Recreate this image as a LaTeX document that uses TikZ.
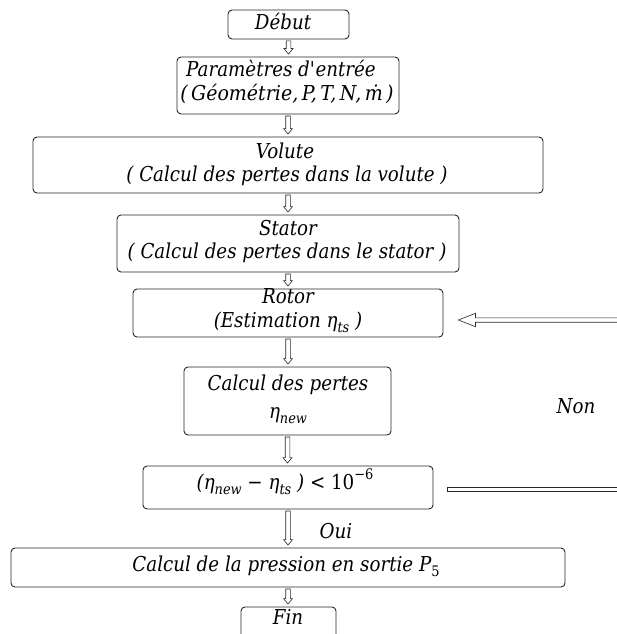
\documentclass[tikz,border=0pt]{standalone}
\usepackage{fontspec}
\usepackage{graphicx}
\setmainfont{DejaVu Serif}[FakeStretch=0.89]
\usetikzlibrary{calc}
\newcommand\lo[1]{\raisebox{-0.28em}{\fontsize{14.5}{14.5}\selectfont #1}}
\newcommand\hi[1]{\raisebox{0.45em}{\fontsize{14.5}{14.5}\selectfont #1}}
\tikzset{
  box/.style={draw=black!85, line width=0.9pt, rounded corners=4pt, inner sep=0pt},
  txt/.style={font=\fontsize{20.5}{20.5}\selectfont\itshape, inner sep=0pt, anchor=base},
  arr/.style={draw=black!85, line width=0.6pt, fill=white, line join=miter},
}
\newcommand\darrow[2]{%
  \draw[arr] let \p1=(#1.south), \p2=(#2.north) in
    (\x1-2.3pt,\y1-1.5pt) -- (\x1-2.3pt,\y2+8pt) -- (\x1-4.5pt,\y2+8pt) -- (\x1,\y2+2.5pt)
    -- (\x1+4.5pt,\y2+8pt) -- (\x1+2.3pt,\y2+8pt) -- (\x1+2.3pt,\y1-1.5pt) -- cycle;}
\begin{document}
\begin{tikzpicture}[x=1pt,y=-1pt]
\path[use as bounding box] (0,0) rectangle (617,634);
\clip (0,0) rectangle (617,634);
% boxes
\node[box, minimum width=121, minimum height=29] (debut) at (288.5,24.5) {};
\node[box, minimum width=222, minimum height=57] (param) at (288,85.5) {};
\node[box, minimum width=510, minimum height=56] (volute) at (288,165) {};
\node[box, minimum width=342, minimum height=57] (stator) at (288,243.5) {};
\node[box, minimum width=310, minimum height=48] (rotor) at (288,313) {};
\node[box, minimum width=207, minimum height=68] (pertes) at (287.5,401) {};
\node[box, minimum width=290, minimum height=43] (cond) at (288,487.5) {};
\node[box, minimum width=554, minimum height=39] (press) at (288,567.5) {};
\node[box, minimum width=95, minimum height=50] (fin) at (288.5,632) {};
% texts
\node[txt] (tdebut) at (283,30) {Début};
\node[txt] (tparamA) at (281,76) {Paramètres d\textquotesingle entrée};
\node[txt] (tparamB) at (287,100) {\resizebox{213pt}{\height}{(\hspace{0.15em}Géométrie,\,P,\,T,\,N,\,\.m\hspace{0.15em})}};
\node[txt] (tvoluteA) at (285,158) {Volute};
\node[txt] (tvoluteB) at (287,181) {( Calcul des pertes dans la volute )};
\node[txt] (tstatorA) at (288,235) {Stator};
\node[txt] (tstatorB) at (287,258) {( Calcul des pertes dans le stator )};
\node[txt] (trotorA) at (288,303) {Rotor};
\node[txt] (trotorB) at (288,327) {(Estimation η\lo{ts} )};
\node[txt] (tpertesA) at (288,390) {Calcul des pertes};
\node[txt] (tpertesB) at (288,418) {η\lo{new}};
\node[txt] (tcond) at (285,489) {(η\lo{new} {\upshape −} η\lo{ts} ) {\upshape <} {\upshape 10\hi{−6}}};
\node[txt] (tpress) at (286,571) {Calcul de la pression en sortie P\lo{\upshape 5}};
\node[txt] (tfin) at (288,624) {Fin};
\node[txt] (tnon) at (576,413) {Non};
\node[txt] (toui) at (336,538) {Oui};
% down arrows
\darrow{debut}{param}
\darrow{param}{volute}
\darrow{volute}{stator}
\darrow{stator}{rotor}
\darrow{rotor}{pertes}
\darrow{pertes}{cond}
\darrow{cond}{press}
\darrow{press}{fin}
% feedback
\coordinate (fbtip) at ($(rotor.east)+(15,7)$);
\coordinate (fbend) at (622,320);
\draw[arr] let \p1=(fbtip), \p2=(fbend) in
  (\x1,\y1) -- (\x1+17pt,\y1+6.7pt) -- (\x1+17pt,\y1+2.2pt) -- (\x2,\y1+2.2pt)
  -- (\x2,\y1-2.2pt) -- (\x1+17pt,\y1-2.2pt) -- (\x1+17pt,\y1-6.7pt) -- cycle;
\coordinate (fbstart) at ($(cond.east)+(14,1.5)$);
\draw[arr] let \p1=(fbstart), \p2=(fbend) in
  (\x1,\y1+2.2pt) rectangle (\x2,\y1-2.2pt);
\end{tikzpicture}
\end{document}
